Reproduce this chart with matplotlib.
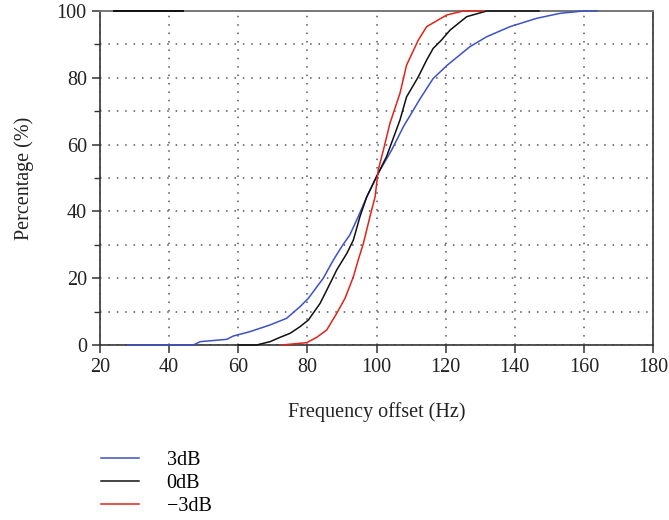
import matplotlib
matplotlib.use("Agg")
import matplotlib.pyplot as plt
from matplotlib.ticker import MultipleLocator

plt.rcParams['font.family'] = ['Liberation Serif', 'DejaVu Serif']

# 3dB series
hz_3db = [28, 47, 49, 56.7, 58.6, 63.4, 69.2, 74, 77.9, 80.3, 84.6, 87.5, 89.9, 92.3,
          94.7, 97.2, 100.5, 104.4, 107.8, 112.6, 116.4, 120.5, 127, 131.9, 138.6,
          146.3, 153.1, 159.9, 163.8]
pct_3db = [0, 0, 1, 1.7, 2.7, 4, 6, 8, 11.5, 14, 20, 25.4, 29.4, 33,
           38.4, 44.4, 51.4, 58.4, 65.4, 73.7, 79.8, 83.8, 89.3, 92.3, 95.3,
           97.8, 99.3, 100, 100]

# 0dB series
hz_0db = [60, 65.3, 69.2, 72.1, 75, 77.9, 80.3, 83.7, 86.6, 88.5, 91.4, 93.3, 95.2,
          97.2, 100, 102.9, 106.8, 108.7, 112.1, 114.5, 116.4, 118.8, 121.3, 126.1,
          131.9, 147]
pct_0db = [0, 0, 1, 2.3, 3.5, 5.5, 7.5, 12.5, 18.5, 22.5, 27.4, 31.4, 38.4,
           44.4, 50.4, 56.4, 67.4, 74.3, 80.3, 85.3, 88.8, 91.3, 94.3, 98.3,
           100, 100]

# -3dB series
hz_m3db = [72.6, 79.8, 82.7, 85.6, 88.5, 90.9, 93.3, 94.7, 96.2, 98.1, 99.6, 100.5,
           102, 103.9, 106.8, 108.7, 112.1, 114.5, 120.3, 125.1, 130.8]
pct_m3db = [0, 0.7, 2.3, 4.5, 9.5, 14, 20.4, 25.4, 30.4, 38.4, 44.4, 52.4,
            58.4, 66.4, 75.4, 83.8, 91.3, 95.3, 98.8, 100, 100]

# short black segment along the top edge
hz_top = [24, 44]
pct_top = [100, 100]

labels = ['3dB', '0dB', '\u22123dB']
colors = ['#3d52c4', '#111111', '#e2231a']

fig = plt.figure(figsize=(6.69, 5.2), dpi=100)
ax = fig.add_axes([100/669, (520-345)/520, (653-100)/669, (345-11)/520])

l1, = ax.plot(hz_3db, pct_3db, color=colors[0], lw=1.1, label=labels[0], zorder=3, clip_on=False)
l2, = ax.plot(hz_0db, pct_0db, color=colors[1], lw=1.1, label=labels[1], zorder=3, clip_on=False)
l3, = ax.plot(hz_m3db, pct_m3db, color=colors[2], lw=1.1, label=labels[2], zorder=3, clip_on=False)
ax.plot(hz_top, pct_top, color=colors[1], lw=1.4, clip_on=False, zorder=5)

ax.set_xlim(20, 180)
ax.set_ylim(0, 100)
ax.xaxis.set_major_locator(MultipleLocator(20))
ax.yaxis.set_major_locator(MultipleLocator(20))
ax.yaxis.set_minor_locator(MultipleLocator(10))

ax.grid(True, which='major', axis='x', color='#555555', linestyle=(0, (1, 4.5)), lw=1.1)
ax.grid(True, which='both', axis='y', color='#555555', linestyle=(0, (1, 4.5)), lw=1.1)

for s in ['left', 'bottom', 'right']:
    ax.spines[s].set_color('#333333')
    ax.spines[s].set_linewidth(1.2)
ax.spines['top'].set_color('#777777')
ax.spines['top'].set_linewidth(1.4)

ax.tick_params(axis='both', which='major', direction='out', length=6, width=1.1,
               color='#333333', labelsize=14.5, labelcolor='#222222')
ax.tick_params(axis='y', which='minor', direction='out', length=4, width=1.0, color='#333333')
ax.tick_params(axis='x', top=False)
ax.tick_params(axis='y', right=False, which='both')

ax.set_xlabel('Frequency offset (Hz)', fontsize=14.5, color='#222222', labelpad=18)
ax.set_ylabel('Percentage (%)', fontsize=14.5, color='#222222', labelpad=16)

fig.legend(handles=[l1, l2, l3], labels=labels, loc='upper left',
           bbox_to_anchor=(93/669, 1 - 443/520), frameon=False, fontsize=14.5,
           handlelength=1.9, handletextpad=1.35, labelspacing=0.2, borderaxespad=0)

fig.savefig('out.png', dpi=100)
